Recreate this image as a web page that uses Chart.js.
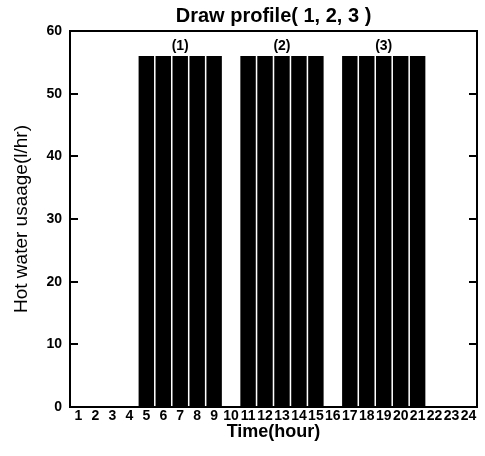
<!DOCTYPE html>
<html lang="en">

<head>
  <meta charset="UTF-8" />
  <title>Draw profile</title>
  <script src="https://cdn.jsdelivr.net/npm/chart.js"></script>
  <style>
    body {
      margin: 0;
      background: #fff;
    }

    .wrap {
      width: 485px;
      height: 456px;
    }
  </style>
</head>

<body>
  <div class="wrap">
    <canvas id="profile"></canvas>
  </div>

  <script>
    // hours 1..24
    const hours = ['1', '2', '3', '4', '5', '6', '7', '8', '9', '10', '11', '12',
      '13', '14', '15', '16', '17', '18', '19', '20', '21', '22', '23', '24'];
    // hot water usage per hour (l/hr)
    const usage = [0, 0, 0, 0, 56, 56, 56, 56, 56, 0, 56, 56,
      56, 56, 56, 0, 56, 56, 56, 56, 56, 0, 0, 0];
    const groupLabels = ['(1)', '(2)', '(3)'];
    const groupAt = ['7', '13', '19'];
    const yTicks = [0, 10, 20, 30, 40, 50, 60];

    const FONT = 'Arial, "Liberation Sans", sans-serif';

    // box round the plot, inward ticks and the group labels
    const frame = {
      id: 'frame',
      afterDatasetsDraw(chart) {
        const { ctx, chartArea: a, scales: { x, y } } = chart;
        ctx.save();
        ctx.strokeStyle = '#000';
        ctx.lineWidth = 2;
        ctx.strokeRect(a.left, a.top, a.right - a.left, a.bottom - a.top);

        ctx.beginPath();
        yTicks.slice(1, -1).forEach(v => {
          const py = Math.round(y.getPixelForValue(v));
          ctx.moveTo(a.left, py);
          ctx.lineTo(a.left + 8, py);
          ctx.moveTo(a.right, py);
          ctx.lineTo(a.right - 8, py);
        });
        ctx.stroke();

        ctx.fillStyle = '#000';
        ctx.font = 'bold 14px ' + FONT;
        ctx.textAlign = 'center';
        ctx.textBaseline = 'bottom';
        groupLabels.forEach((t, i) => {
          const px = x.getPixelForValue(hours.indexOf(groupAt[i]));
          const py = y.getPixelForValue(56) - 3;
          ctx.fillText(t, px, py);
        });
        ctx.restore();
      }
    };

    new Chart(document.getElementById('profile'), {
      type: 'bar',
      data: {
        labels: hours,
        datasets: [{
          data: usage,
          backgroundColor: '#000',
          borderWidth: 0,
          barPercentage: 0.91,
          categoryPercentage: 1
        }]
      },
      options: {
        responsive: true,
        maintainAspectRatio: false,
        animation: false,
        layout: { padding: { left: 0, right: 8, top: 0, bottom: 0 } },
        plugins: {
          legend: { display: false },
          tooltip: { enabled: false },
          title: {
            display: true,
            fullSize: false,
            text: 'Draw profile( 1, 2, 3 )',
            color: '#000',
            font: { family: FONT, size: 20, weight: 'bold' },
            padding: { top: 4, bottom: 3 }
          }
        },
        scales: {
          x: {
            grid: { display: false, drawTicks: false },
            border: { display: false },
            ticks: {
              color: '#000',
              font: { family: FONT, size: 14, weight: 'bold' },
              maxRotation: 0,
              autoSkip: false,
              padding: 1
            },
            title: {
              display: true,
              text: 'Time(hour)',
              color: '#000',
              font: { family: FONT, size: 18, weight: 'bold' },
              padding: { top: 0, bottom: 13 }
            },
            afterFit: s => { s.height = 49; }
          },
          y: {
            min: 0,
            max: 60,
            grid: { display: false, drawTicks: false },
            border: { display: false },
            ticks: {
              stepSize: 10,
              color: '#000',
              font: { family: FONT, size: 14, weight: 'bold' },
              padding: 8
            },
            title: {
              display: true,
              text: 'Hot water usaage(l/hr)',
              color: '#000',
              font: { family: FONT, size: 19 },
              padding: { top: 10, bottom: 0 }
            },
            afterFit: s => { s.width = 70; }
          }
        }
      },
      plugins: [frame]
    });
  </script>
</body>

</html>
